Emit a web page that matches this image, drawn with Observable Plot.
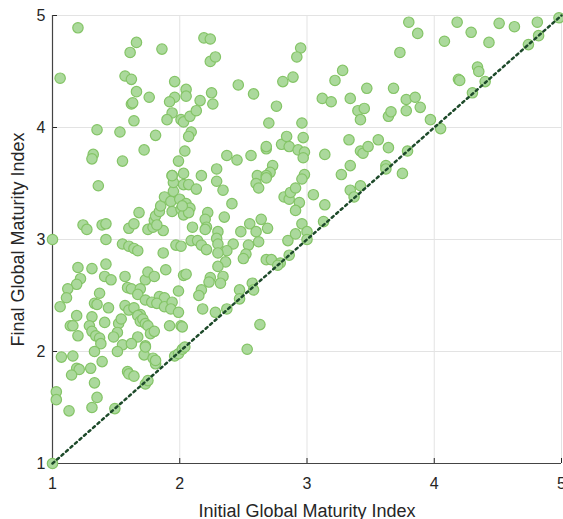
<!DOCTYPE html>
<html>
<head>
<meta charset="utf-8">
<script src="https://cdn.jsdelivr.net/npm/d3@7"></script>
<script src="https://cdn.jsdelivr.net/npm/@observablehq/plot@0.6"></script>
<style>
  html, body { margin: 0; padding: 0; background: #fff; }
  #chart svg { display: block; }
</style>
</head>
<body>
<div id="chart"></div>
<script>
// Initial (x) and final (y) global maturity index
const initialIndex = [
  1.20,1.06,1.57,1.62,1.61,1.66,1.86,1.66,1.62,1.63,1.76,1.64,1.35,1.53,1.81,1.72,1.32,1.31,1.55,
  1.96,2.05,2.05,1.96,1.92,1.94,1.90,2.01,2.03,2.08,2.13,2.16,2.09,2.07,2.04,1.99,1.94,2.03,
  2.19,2.24,2.24,2.28,2.95,2.92,2.25,2.26,2.46,2.58,2.81,2.89,2.76,2.70,2.96,
  2.37,2.45,2.56,2.68,2.68,2.80,2.84,2.86,2.93,2.98,2.97,2.97,2.17,2.29,2.73,2.71,2.61,2.68,2.98,
  3.12,3.19,3.22,3.28,3.34,3.47,3.40,3.45,3.42,3.14,3.33,3.42,3.44,3.48,3.56,3.34,3.27,
  4.98,3.80,3.87,3.73,4.18,4.29,4.08,4.51,4.63,4.81,4.43,4.82,4.74,4.34,4.35,4.40,4.19,4.20,4.30,
  3.68,3.78,3.85,3.89,3.78,3.64,3.66,3.97,4.05,3.64,3.79,3.62,3.62,3.75,
  1.36,1.24,1.27,1.39,1.42,1.00,1.42,1.60,1.64,1.68,1.75,1.79,1.80,1.87,1.81,1.82,1.84,1.85,
  1.88,1.93,1.95,1.95,1.94,2.00,2.05,1.94,2.01,2.03,2.08,2.07,2.03,2.07,2.13,2.10,2.09,2.14,
  1.55,1.60,1.64,1.67,1.87,1.97,2.01,1.20,1.31,1.22,1.19,1.42,1.41,1.46,1.12,1.11,1.06,1.37,
  1.57,1.59,1.62,1.69,1.67,1.73,1.75,1.80,1.89,2.03,2.05,1.99,1.84,1.88,1.73,1.78,1.82,
  1.88,1.94,1.93,1.99,1.33,1.35,1.44,1.57,1.60,1.64,1.69,1.19,1.31,1.14,1.16,1.20,
  1.29,1.31,1.34,1.37,1.41,1.52,1.51,1.48,1.54,1.67,1.69,1.71,1.73,1.75,1.77,1.80,1.92,2.01,2.02,
  1.67,1.38,1.55,1.62,1.73,
  1.07,1.16,1.19,1.21,1.15,1.30,1.33,1.39,1.51,1.33,1.35,1.31,1.03,1.03,1.13,1.49,
  1.59,1.60,1.64,1.73,1.75,1.72,1.73,1.79,1.81,1.81,1.96,1.99,2.02,1.00,2.53,
  2.29,2.34,2.60,2.62,2.68,2.96,2.82,2.86,2.87,2.91,2.94,2.91,3.05,3.14,3.34,3.37,3.42,
  2.02,2.22,2.20,2.21,2.20,2.35,2.41,2.30,2.29,2.30,2.17,2.21,
  2.48,2.55,2.60,2.62,2.54,2.64,2.69,2.42,2.37,2.30,2.52,2.50,2.68,2.72,2.79,2.77,2.86,
  2.85,2.91,2.96,3.00,3.00,3.13,2.36,2.30,2.34,2.32,2.24,2.23,2.17,2.15,
  2.47,2.47,2.57,2.58,2.37,2.28,2.18,2.63,2.04
];
const finalIndex = [
  4.89,4.44,4.46,4.43,4.67,4.76,4.70,4.32,4.21,4.22,4.27,4.06,3.98,3.96,3.93,3.80,3.76,3.72,3.70,
  4.41,4.34,4.28,4.27,4.23,4.13,4.07,4.07,4.05,4.10,4.15,4.24,3.96,3.92,3.79,3.70,3.57,3.59,
  4.80,4.79,4.59,4.63,4.71,4.63,4.31,4.21,4.38,4.30,4.41,4.45,4.19,4.04,4.04,
  3.75,3.71,3.75,3.81,3.83,3.85,3.92,3.83,3.80,3.78,3.73,3.91,3.57,3.63,3.66,3.60,3.57,3.57,3.58,
  4.26,4.23,4.42,4.51,4.26,4.35,4.15,4.17,4.07,3.76,3.89,3.79,3.77,3.83,3.89,3.66,3.58,
  4.98,4.94,4.84,4.67,4.94,4.85,4.77,4.93,4.90,4.94,4.76,4.82,4.74,4.54,4.50,4.41,4.43,4.42,4.31,
  4.35,4.25,4.27,4.18,4.15,4.10,4.14,4.07,3.99,3.82,3.79,3.66,3.63,3.59,
  3.48,3.13,3.09,3.13,3.14,3.00,3.00,3.10,3.14,3.24,3.09,3.11,3.17,3.08,3.21,3.13,3.25,3.30,
  3.38,3.34,3.43,3.51,3.57,3.36,3.32,3.25,3.27,3.22,3.28,3.24,3.49,3.49,3.45,3.11,2.99,2.99,
  2.96,2.94,2.92,2.90,2.88,2.95,2.94,2.75,2.74,2.65,2.60,2.78,2.67,2.64,2.56,2.48,2.40,2.52,
  2.67,2.57,2.56,2.56,2.51,2.64,2.71,2.67,2.73,2.68,2.69,2.54,2.49,2.48,2.46,2.44,2.43,
  2.40,2.44,2.38,2.35,2.43,2.42,2.39,2.41,2.37,2.39,2.33,2.32,2.31,2.23,2.23,2.14,
  2.23,2.18,2.14,2.12,2.26,2.25,2.17,2.13,2.29,2.32,2.27,2.29,2.25,2.23,2.16,2.18,2.23,2.23,2.22,
  2.13,2.07,2.06,2.07,2.05,
  1.95,1.96,1.85,1.84,1.79,1.85,2.00,1.91,2.00,1.72,1.59,1.50,1.64,1.57,1.47,1.49,
  1.82,1.80,1.78,1.71,1.74,1.97,2.04,1.94,1.89,1.92,1.96,1.98,2.02,1.00,2.02,
  3.52,3.44,3.50,3.46,3.55,3.54,3.38,3.36,3.42,3.46,3.33,3.26,3.40,3.31,3.44,3.38,3.48,
  3.30,3.24,3.18,3.11,3.09,3.20,3.32,3.07,3.01,2.96,2.95,2.91,
  3.07,3.14,3.07,2.98,2.95,3.18,3.10,2.96,2.90,2.88,2.87,2.83,2.82,2.82,2.79,2.77,2.86,
  2.99,3.05,3.14,3.07,3.00,3.16,2.80,2.76,2.67,2.61,2.66,2.62,2.55,2.50,
  2.55,2.47,2.61,2.55,2.38,2.35,2.38,2.24,2.04
];
const xTicks = [1, 2, 3, 4, 5];
const yTicks = [1, 2, 3, 4, 5];
const diagonal = [1, 5];
const xLabel = "Initial Global Maturity Index";
const yLabel = "Final Global Maturity Index";

const points = initialIndex.map((x, i) => ({x, y: finalIndex[i]}));

const W = 563, H = 519;
const mt = 15, mb = 56, ml = 52, mr = 2;
const innerH = H - mt - mb, innerW = W - ml - mr;
const axisColor = "#262626";
const font = "'Liberation Sans', Arial, Helvetica, sans-serif";

const chart = Plot.plot({
  width: W,
  height: H,
  marginTop: mt,
  marginBottom: mb,
  marginLeft: ml,
  marginRight: mr,
  style: {fontFamily: font, fontSize: "16px", color: axisColor, background: "#fff"},
  x: {domain: [1, 5]},
  y: {domain: [1, 5]},
  marks: [
    Plot.gridX(xTicks, {stroke: "#e3e3e3", strokeOpacity: 1, strokeWidth: 1}),
    Plot.gridY(yTicks, {stroke: "#e3e3e3", strokeOpacity: 1, strokeWidth: 1}),
    Plot.axisX(xTicks, {tickSize: 0, tickPadding: 14, fontSize: 16, tickFormat: d3.format("d"), label: xLabel, labelArrow: "none", labelAnchor: "center", labelOffset: 53, fill: axisColor}),
    Plot.axisY(yTicks, {tickSize: 0, tickPadding: 7, fontSize: 16, tickFormat: d3.format("d"), label: yLabel, labelArrow: "none", labelAnchor: "center", labelOffset: 41, fill: axisColor}),
    Plot.ruleX(xTicks, {x: d => d, insetTop: innerH - 5, stroke: axisColor, strokeWidth: 1}),
    Plot.ruleY(yTicks, {y: d => d, insetRight: innerW - 5, stroke: axisColor, strokeWidth: 1}),
    Plot.ruleY([yTicks[0]], {stroke: "#444", strokeWidth: 1.2}),
    Plot.ruleX([xTicks[0]], {stroke: "#444", strokeWidth: 1.2}),
    Plot.dot(points, {x: "x", y: "y", r: 5.2, fill: "#abd99c", stroke: "#84c466", strokeWidth: 1.2}),
    Plot.line(diagonal.map(v => ({v})), {x: "v", y: "v", stroke: "#1d4a2a", strokeWidth: 2.5, strokeDasharray: "2.4 3.6"})
  ]
});
// axis label font size; strip any arrows
chart.querySelectorAll("g[aria-label='x-axis label'] text, g[aria-label='y-axis label'] text").forEach(t => {
  t.setAttribute("font-size", "18");
  t.textContent = t.textContent.replace(/[\u2191\u2192\u2193\u2190]/g, "").trim();
});
document.getElementById("chart").appendChild(chart);
</script>
</body>
</html>
